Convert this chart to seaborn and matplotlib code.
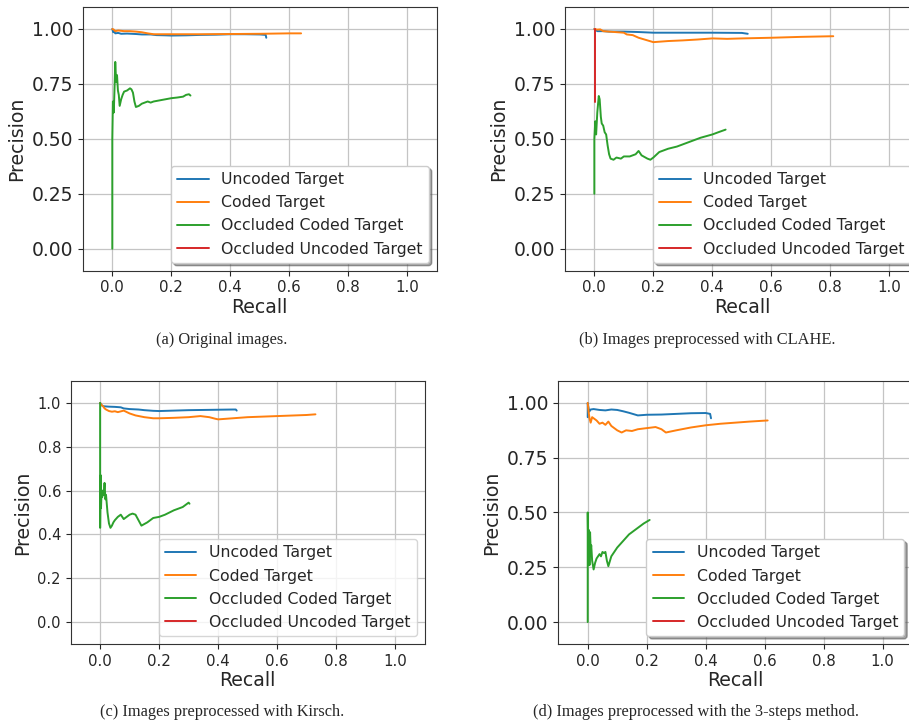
import pandas as pd
import matplotlib
matplotlib.use('Agg')
import matplotlib.pyplot as plt
import seaborn as sns

classes = ['Uncoded Target', 'Coded Target', 'Occluded Coded Target', 'Occluded Uncoded Target']
colors = ['#1f77b4', '#ff7f0e', '#2ca02c', '#d62728']

captions = ['(a) Original images.',
            '(b) Images preprocessed with CLAHE.',
            '(c) Images preprocessed with Kirsch.',
            '(d) Images preprocessed with the 3-steps method.']

xticks = [0.0, 0.2, 0.4, 0.6, 0.8, 1.0]
yticks_quarter = [0.0, 0.25, 0.5, 0.75, 1.0]
yticks_fifth = [0.0, 0.2, 0.4, 0.6, 0.8, 1.0]

# (a) original images
a_unc_r = [0.0, 0.003, 0.006, 0.01, 0.02, 0.03, 0.05, 0.08, 0.1, 0.13, 0.15, 0.18, 0.2, 0.25, 0.3, 0.35, 0.4, 0.45, 0.5, 0.52, 0.522]
a_unc_p = [1.0, 0.985, 0.99, 0.98, 0.982, 0.978, 0.979, 0.977, 0.975, 0.975, 0.972, 0.971, 0.97, 0.971, 0.973, 0.974, 0.976, 0.976, 0.975, 0.973, 0.96]
a_cod_r = [0.0, 0.005, 0.01, 0.02, 0.04, 0.06, 0.08, 0.1, 0.12, 0.14, 0.2, 0.3, 0.4, 0.5, 0.6, 0.64]
a_cod_p = [1.0, 0.997, 0.99, 0.993, 0.99, 0.99, 0.988, 0.985, 0.98, 0.976, 0.976, 0.976, 0.977, 0.978, 0.98, 0.98]
a_occ_r = [0.0, 0.0, 0.0, 0.002, 0.005, 0.008, 0.01, 0.013, 0.016, 0.019, 0.022, 0.025, 0.03, 0.035, 0.04, 0.05, 0.06,
           0.065, 0.07, 0.075, 0.08, 0.09, 0.1, 0.12, 0.13, 0.14, 0.16, 0.18, 0.2, 0.22, 0.24, 0.25, 0.26, 0.265]
a_occ_p = [0.0, 0.33, 0.5, 0.67, 0.62, 0.75, 0.85, 0.76, 0.79, 0.72, 0.7, 0.65, 0.68, 0.7, 0.715, 0.72, 0.73,
           0.725, 0.71, 0.67, 0.645, 0.65, 0.66, 0.67, 0.665, 0.67, 0.675, 0.68, 0.685, 0.688, 0.692, 0.70, 0.703, 0.697]
a_ocu_r = [0.0]
a_ocu_p = [1.0]

# (b) CLAHE
b_unc_r = [0.0, 0.005, 0.01, 0.03, 0.05, 0.08, 0.1, 0.15, 0.2, 0.25, 0.3, 0.4, 0.5, 0.52]
b_unc_p = [1.0, 0.995, 0.99, 0.99, 0.988, 0.988, 0.988, 0.986, 0.983, 0.983, 0.983, 0.983, 0.982, 0.978]
b_cod_r = [0.0, 0.01, 0.02, 0.03, 0.05, 0.08, 0.1, 0.11, 0.13, 0.15, 0.17, 0.19, 0.2, 0.22, 0.25, 0.3, 0.35,
           0.4, 0.45, 0.5, 0.6, 0.7, 0.81]
b_cod_p = [1.0, 0.997, 0.998, 0.99, 0.988, 0.985, 0.983, 0.975, 0.972, 0.96, 0.952, 0.944, 0.94, 0.942, 0.945,
           0.948, 0.952, 0.957, 0.955, 0.957, 0.96, 0.964, 0.967]
b_occ_r = [0.0, 0.0, 0.003, 0.006, 0.01, 0.015, 0.018, 0.022, 0.025, 0.03, 0.035, 0.04, 0.045, 0.05, 0.055, 0.065,
           0.075, 0.09, 0.1, 0.12, 0.14, 0.15, 0.16, 0.18, 0.19, 0.2, 0.22, 0.25, 0.28, 0.3, 0.33, 0.36, 0.4, 0.42, 0.445]
b_occ_p = [0.25, 0.5, 0.58, 0.52, 0.62, 0.695, 0.68, 0.6, 0.57, 0.56, 0.53, 0.52, 0.47, 0.43, 0.41, 0.405,
           0.415, 0.41, 0.42, 0.42, 0.43, 0.445, 0.425, 0.41, 0.405, 0.415, 0.44, 0.455, 0.465, 0.475, 0.49, 0.505,
           0.52, 0.53, 0.542]
b_ocu_r = [0.003, 0.003]
b_ocu_p = [1.0, 0.667]

# (c) Kirsch
c_unc_r = [0.0, 0.005, 0.01, 0.03, 0.05, 0.07, 0.08, 0.1, 0.13, 0.15, 0.18, 0.2, 0.25, 0.3, 0.35, 0.4, 0.45, 0.46, 0.463]
c_unc_p = [1.0, 0.99, 0.985, 0.983, 0.982, 0.98, 0.975, 0.972, 0.97, 0.967, 0.964, 0.963, 0.965, 0.967, 0.968,
           0.969, 0.97, 0.97, 0.965]
c_cod_r = [0.0, 0.005, 0.01, 0.015, 0.02, 0.03, 0.04, 0.05, 0.06, 0.08, 0.1, 0.12, 0.15, 0.18, 0.2, 0.25, 0.3,
           0.34, 0.37, 0.39, 0.4, 0.45, 0.5, 0.6, 0.7, 0.73]
c_cod_p = [1.0, 0.99, 0.985, 0.975, 0.97, 0.963, 0.96, 0.962, 0.958, 0.965, 0.952, 0.943, 0.935, 0.93, 0.93,
           0.932, 0.935, 0.94, 0.935, 0.928, 0.925, 0.93, 0.935, 0.94, 0.945, 0.948]
c_occ_r = [0.0, 0.0, 0.001, 0.002, 0.003, 0.005, 0.007, 0.009, 0.012, 0.015, 0.018, 0.02, 0.025, 0.03, 0.035,
           0.04, 0.045, 0.05, 0.06, 0.07, 0.08, 0.09, 0.1, 0.11, 0.12, 0.13, 0.14, 0.16, 0.18, 0.2, 0.22, 0.25,
           0.28, 0.3, 0.303]
c_occ_p = [1.0, 0.43, 0.55, 0.67, 0.52, 0.6, 0.57, 0.6, 0.58, 0.635, 0.56, 0.58, 0.5, 0.45, 0.43, 0.44, 0.455,
           0.465, 0.48, 0.49, 0.47, 0.48, 0.49, 0.495, 0.49, 0.465, 0.44, 0.455, 0.475, 0.48, 0.49, 0.51, 0.525,
           0.545, 0.54]
c_ocu_r = [0.0]
c_ocu_p = [1.0]

# (d) 3-steps method
d_unc_r = [0.0, 0.0, 0.005, 0.01, 0.02, 0.04, 0.06, 0.08, 0.1, 0.12, 0.14, 0.17, 0.2, 0.25, 0.3, 0.35, 0.4, 0.415, 0.418]
d_unc_p = [0.935, 1.0, 0.96, 0.97, 0.972, 0.968, 0.966, 0.97, 0.968, 0.962, 0.955, 0.943, 0.946, 0.947, 0.95,
           0.953, 0.954, 0.95, 0.93]
d_cod_r = [0.0, 0.003, 0.006, 0.01, 0.015, 0.02, 0.03, 0.04, 0.05, 0.06, 0.07, 0.08, 0.09, 0.1, 0.115, 0.13,
           0.15, 0.17, 0.2, 0.23, 0.25, 0.265, 0.3, 0.35, 0.4, 0.45, 0.5, 0.55, 0.61]
d_cod_p = [1.0, 0.96, 0.93, 0.91, 0.935, 0.93, 0.92, 0.905, 0.91, 0.9, 0.915, 0.895, 0.885, 0.875, 0.865, 0.875,
           0.872, 0.88, 0.885, 0.89, 0.88, 0.865, 0.875, 0.888, 0.898, 0.905, 0.91, 0.915, 0.92]
d_occ_r = [0.0, 0.0, 0.0, 0.002, 0.004, 0.006, 0.008, 0.01, 0.012, 0.015, 0.02, 0.025, 0.03, 0.035, 0.04, 0.045,
           0.05, 0.055, 0.06, 0.065, 0.07, 0.08, 0.1, 0.12, 0.14, 0.17, 0.19, 0.21]
d_occ_p = [0.0, 0.1, 0.5, 0.3, 0.42, 0.26, 0.41, 0.33, 0.35, 0.28, 0.24, 0.27, 0.29, 0.3, 0.31, 0.3, 0.32, 0.315,
           0.32, 0.28, 0.255, 0.3, 0.34, 0.37, 0.4, 0.43, 0.45, 0.466]
d_ocu_r = [0.0]
d_ocu_p = [1.0]


def make_df(curves):
    frames = []
    for name, (r, p) in zip(classes, curves):
        frames.append(pd.DataFrame({'Recall': r, 'Precision': p, 'Class': name}))
    return pd.concat(frames, ignore_index=True)


panels = [
    make_df([(a_unc_r, a_unc_p), (a_cod_r, a_cod_p), (a_occ_r, a_occ_p), (a_ocu_r, a_ocu_p)]),
    make_df([(b_unc_r, b_unc_p), (b_cod_r, b_cod_p), (b_occ_r, b_occ_p), (b_ocu_r, b_ocu_p)]),
    make_df([(c_unc_r, c_unc_p), (c_cod_r, c_cod_p), (c_occ_r, c_occ_p), (c_ocu_r, c_ocu_p)]),
    make_df([(d_unc_r, d_unc_p), (d_cod_r, d_cod_p), (d_occ_r, d_occ_p), (d_ocu_r, d_ocu_p)]),
]

sns.set_style('ticks')
plt.rcParams['font.family'] = ['DejaVu Sans']

fig = plt.figure(figsize=(9.09, 7.27), dpi=100)
# axes rectangles [left, bottom, width, height] in figure fraction
rects = [[0.0911, 0.6276, 0.3894, 0.3628],
         [0.6214, 0.6276, 0.3894, 0.3628],
         [0.0777, 0.1142, 0.3894, 0.3617],
         [0.6141, 0.1142, 0.3894, 0.3617]]
yticks_list = [yticks_quarter, yticks_quarter, yticks_fifth, yticks_quarter]
ytick_sizes = [13.5, 13.5, 10.5, 13.5]
shadows = [True, True, False, True]
caption_pos = [(0.2442, 0.5323), (0.7778, 0.5323), (0.2442, 0.0206), (0.7657, 0.0206)]

for i, df in enumerate(panels):
    ax = fig.add_axes(rects[i])
    sns.lineplot(data=df, x='Recall', y='Precision', hue='Class', hue_order=classes,
                 palette=colors, estimator=None, sort=False, linewidth=1.4, ax=ax)
    ax.set_xlim(-0.1, 1.1)
    ax.set_ylim(-0.1, 1.1)
    ax.set_xticks(xticks)
    ax.set_yticks(yticks_list[i])
    ax.grid(True, color='#c4c4c4', linewidth=0.9)
    ax.tick_params(axis='x', labelsize=10.8)
    ax.tick_params(axis='y', labelsize=ytick_sizes[i])
    ax.set_xlabel('Recall', fontsize=13.6, labelpad=2)
    ax.set_ylabel('Precision', fontsize=13.6, labelpad=4)
    for s in ax.spines.values():
        s.set_color('#333333')
    old = ax.get_legend()
    handles = old.legend_handles
    labels = [t.get_text() for t in old.get_texts()]
    ax.legend(handles, labels, loc='lower right', fontsize=11.3, frameon=True,
              shadow=shadows[i], fancybox=True, edgecolor='#cccccc', labelspacing=0.52)
    fig.text(caption_pos[i][0], caption_pos[i][1], captions[i], ha='center', va='center',
             family='Liberation Serif', fontsize=11.8)

fig.savefig('out.png', dpi=100)
